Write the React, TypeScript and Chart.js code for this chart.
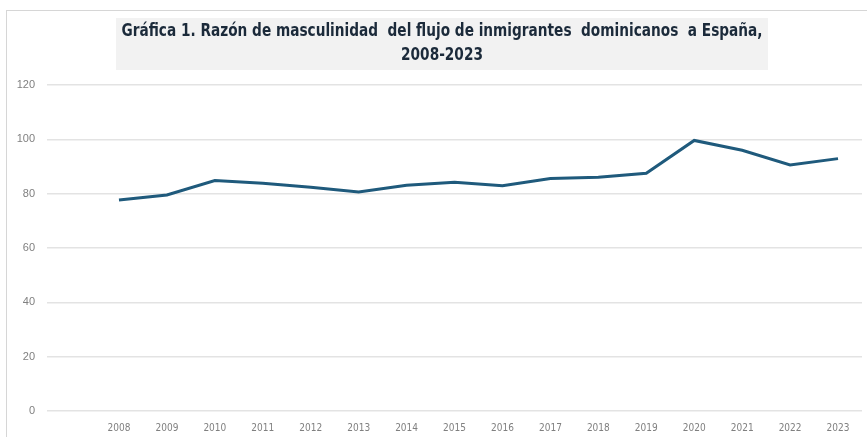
import React, { useEffect, useRef } from "react";
import { Chart, registerables } from "chart.js";

Chart.register(...registerables);

const titleLines = [
  "Gráfica 1. Razón de masculinidad  del flujo de inmigrantes  dominicanos  a España,",
  "2008-2023",
];
const years = [
  "2008", "2009", "2010", "2011", "2012", "2013", "2014", "2015",
  "2016", "2017", "2018", "2019", "2020", "2021", "2022", "2023",
];
const ratio = [
  77.7, 79.5, 84.8, 83.8, 82.4, 80.6, 83.1, 84.2,
  82.9, 85.6, 86.0, 87.5, 99.6, 96.0, 90.6, 92.9,
];
const yMin = 0;
const yMax = 120;
const yStep = 20;

const titleFont = "bold 17px 'Liberation Sans Narrow', 'DejaVu Sans Condensed', sans-serif";

const titleBoxPlugin = {
  id: "titleBox",
  beforeDraw(chart: any) {
    const ctx = chart.ctx;
    const cx = 435;
    const boxW = 652;
    ctx.save();
    ctx.fillStyle = "#f2f2f2";
    ctx.fillRect(cx - boxW / 2, 7, boxW, 52);
    ctx.font = titleFont;
    ctx.fillStyle = "#1b2a3a";
    ctx.textAlign = "center";
    ctx.textBaseline = "middle";
    const w0 = ctx.measureText(titleLines[0]).width;
    const sx = Math.min(1, 641 / w0);
    titleLines.forEach((line, i) => {
      ctx.save();
      ctx.translate(cx, 21 + i * 24);
      ctx.scale(sx, 1);
      ctx.fillText(line, 0, 0);
      ctx.restore();
    });
    ctx.restore();
  },
};

export default function App() {
  const ref = useRef<HTMLCanvasElement | null>(null);

  useEffect(() => {
    if (!ref.current) return;
    const chart = new Chart(ref.current, {
      type: "line",
      data: {
        labels: years,
        datasets: [
          {
            label: "Razón de masculinidad",
            data: ratio,
            borderColor: "#1f5a7c",
            backgroundColor: "#1f5a7c",
            borderWidth: 3,
            pointRadius: 0,
            tension: 0,
            fill: false,
          },
        ],
      },
      options: {
        animation: false,
        responsive: true,
        maintainAspectRatio: false,
        layout: { padding: { left: 0, right: 0, top: 74, bottom: 0 } },
        plugins: {
          legend: { display: false },
          tooltip: { enabled: false },
          title: { display: false },
        },
        scales: {
          x: {
            type: "category",
            offset: true,
            grid: { display: false, drawTicks: false },
            border: { display: false },
            ticks: {
              color: "#808080",
              padding: 11,
              maxRotation: 0,
              autoSkip: false,
              font: { family: "'Liberation Sans Narrow', 'DejaVu Sans Condensed', sans-serif", size: 10 },
            },
            afterFit(scale: any) {
              scale.height = 26;
            },
          },
          y: {
            min: yMin,
            max: yMax,
            grid: {
              color: "#e3e3e3",
              lineWidth: 1.5,
              drawTicks: true,
              tickLength: 48,
            },
            border: { display: false },
            ticks: {
              stepSize: yStep,
              color: "#808080",
              padding: 12,
              font: { family: "'Liberation Sans', Arial, sans-serif", size: 11 },
            },
            afterFit(scale: any) {
              scale.width = 88;
            },
          },
        },
      },
      plugins: [titleBoxPlugin],
    });
    return () => chart.destroy();
  }, []);

  return (
    <div
      style={{
        position: "absolute",
        left: 6,
        top: 10,
        width: 861,
        height: 427,
        boxSizing: "border-box",
        borderLeft: "1px solid #d6d6d6",
        borderTop: "1px solid #d6d6d6",
        background: "#ffffff",
      }}
    >
      <div style={{ position: "relative", width: 855, height: 426 }}>
        <canvas ref={ref} />
      </div>
    </div>
  );
}
